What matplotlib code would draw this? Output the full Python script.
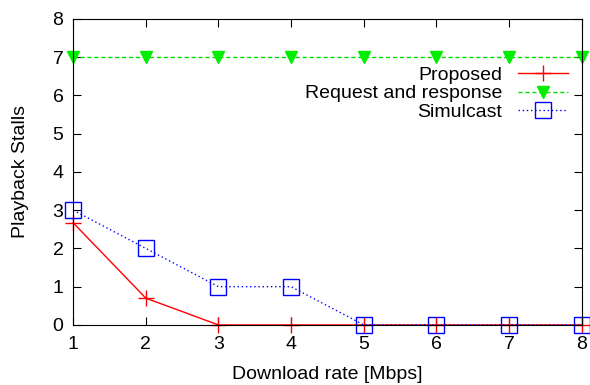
import matplotlib.pyplot as plt
import numpy as np

plt.rcParams['font.family'] = ['Liberation Sans', 'DejaVu Sans']

rates = [1, 2, 3, 4, 5, 6, 7, 8]
proposed = [2.67, 0.7, 0, 0, 0, 0, 0, 0]
request_response = [7, 7, 7, 7, 7, 7, 7, 7]
simulcast = [3, 2, 1, 1, 0, 0, 0, 0]

fig = plt.figure(figsize=(5.9, 3.85), dpi=100)
ax = fig.add_axes([0.124, 0.156, 0.862, 0.795])

ax.plot(rates, proposed, color='#ff0000', linewidth=1, marker='+',
        markersize=12, markeredgewidth=1, label='Proposed', clip_on=False)
ax.plot(rates, request_response, color='#00dd00', linewidth=1, linestyle=(0, (3, 2)),
        marker='v', markersize=9, markeredgecolor='#00ee00', markerfacecolor='#00ee00',
        label='Request and response', clip_on=False)
ax.plot(rates, simulcast, color='#0000ff', linewidth=1, linestyle=(0, (1, 2)),
        marker='s', markersize=12, markerfacecolor='none', markeredgewidth=1,
        label='Simulcast', clip_on=False)

ax.set_xlim(1, 8)
ax.set_ylim(0, 8)
ax.set_xticks(np.arange(1, 9, 1))
ax.set_yticks(np.arange(0, 9, 1))
ax.tick_params(direction='in', top=True, right=True, labelsize=14, length=6)
ax.tick_params(axis='x', pad=8)
ax.tick_params(axis='y', pad=7)
ax.set_xlabel('Download rate [Mbps]', fontsize=14, labelpad=9)
ax.set_ylabel('Playback Stalls', fontsize=14, labelpad=17)

ax.legend(loc='upper right', bbox_to_anchor=(1.0, 0.89), frameon=False, markerfirst=False,
          fontsize=14, handlelength=2.6, handletextpad=0.8, labelspacing=0.05,
          borderaxespad=0.3)

fig.savefig('out.png', dpi=100)
